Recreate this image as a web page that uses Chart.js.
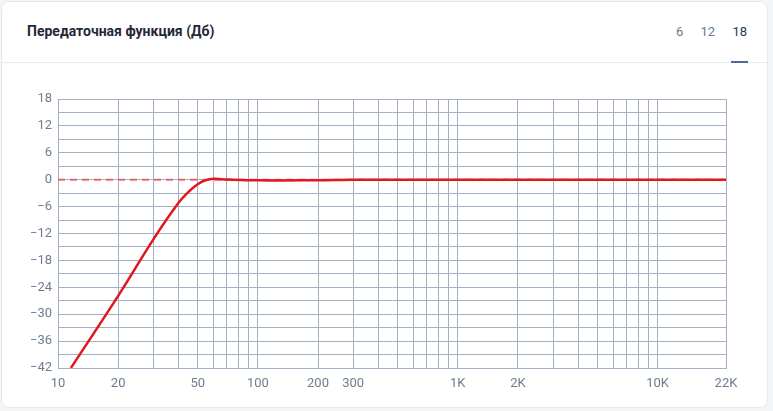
<!DOCTYPE html>
<html>
<head>
<meta charset="utf-8">
<script src="https://cdn.jsdelivr.net/npm/chart.js@4.4.1/dist/chart.umd.min.js"></script>
<style>
    html, body { margin: 0; padding: 0; background: #f4f5f7; }
    body { width: 773px; height: 411px; overflow: hidden; font-family: Roboto, "Noto Sans", sans-serif; }
    .card {
        position: absolute; left: 1px; top: 1px; width: 765px; height: 405px;
        background: #fff; border: 1px solid #e6e9ee; border-radius: 8px;
    }
    .header {
        position: absolute; left: 0; top: 0; width: 765px; height: 60px;
        border-bottom: 1px solid #e8ebf0;
    }
    .title {
        position: absolute; left: 25px; top: 21px;
        font-size: 14px; font-weight: 700; color: #1f2937;
    }
    .tabs { position: absolute; right: 20px; top: 22px; font-size: 13px; }
    .tab { display: inline-block; margin-left: 14px; color: #6b7a90; position: relative; }
    .tab.active { color: #2a3952; }
    .tab.active::after {
        content: ''; position: absolute; left: -1px; right: -1px; top: 37px;
        height: 2px; background: #4b6a96;
    }
    .wrap { position: absolute; left: -1px; top: 61px; width: 770px; height: 345px; }
</style>
</head>
<body>
<div class="card">
    <div class="header">
        <div class="title">Передаточная функция (Дб)</div>
        <div class="tabs">
            <span class="tab">6</span>
            <span class="tab">12</span>
            <span class="tab active">18</span>
        </div>
    </div>
    <div class="wrap"><canvas id="chart"></canvas></div>
</div>
<script>
// Частоты (Гц) и уровень (дБ)
const freqs = [11.6, 20, 30, 40, 45, 50, 55, 60, 70, 100, 200, 300, 1000, 5000, 22000];
const levels = [-42, -25.9, -13.3, -5.2, -2.7, -1.0, -0.1, 0.2, 0.05, -0.15, -0.1, 0, 0, 0, 0];

const refFreqs = [10, 22000];
const refLevels = [0, 0];

const gridFreqs = [10, 20, 30, 40, 50, 60, 70, 80, 90,
    100, 200, 300, 400, 500, 600, 700, 800, 900,
    1000, 2000, 3000, 4000, 5000, 6000, 7000, 8000, 9000,
    10000, 22000];
const xLabels = { 10: '10', 20: '20', 50: '50', 100: '100', 200: '200', 300: '300', 1000: '1K', 2000: '2K', 10000: '10K', 22000: '22K' };

const gridColor = '#a3b0c4';
const tickColor = '#6f7c90';

const ctx = document.getElementById('chart').getContext('2d');
new Chart(ctx, {
    type: 'line',
    data: {
        datasets: [{
            data: freqs.map((f, i) => ({ x: f, y: levels[i] })),
            borderColor: '#e3151d',
            borderWidth: 2.5,
            pointRadius: 0,
            tension: 0.35,
            fill: false
        }, {
            data: refFreqs.map((f, i) => ({ x: f, y: refLevels[i] })),
            borderColor: 'rgba(235, 80, 80, 0.8)',
            borderWidth: 2,
            borderDash: [7, 5],
            pointRadius: 0,
            fill: false
        }]
    },
    options: {
        responsive: true,
        maintainAspectRatio: false,
        animation: false,
        layout: { padding: { top: 36, right: 45, left: 0, bottom: 0 } },
        plugins: { legend: { display: false }, tooltip: { enabled: false } },
        scales: {
            x: {
                type: 'logarithmic',
                min: 10,
                max: 22000,
                afterBuildTicks: (axis) => {
                    axis.ticks = gridFreqs.map(v => ({ value: v }));
                },
                afterFit: (axis) => { axis.height = 40; },
                grid: { color: gridColor, lineWidth: 1, drawTicks: false },
                border: { color: gridColor },
                ticks: {
                    color: tickColor,
                    font: { family: 'Roboto', size: 13 },
                    padding: 8,
                    autoSkip: false,
                    maxRotation: 0,
                    callback: (v) => xLabels[v] || ''
                }
            },
            y: {
                min: -42,
                max: 18,
                afterFit: (axis) => { axis.width = 57; },
                grid: { color: gridColor, lineWidth: 1, drawTicks: false },
                border: { color: gridColor },
                ticks: {
                    stepSize: 3,
                    color: tickColor,
                    font: { family: 'Roboto', size: 13 },
                    padding: 6,
                    autoSkip: false,
                    callback: (v) => v % 6 === 0 ? String(v).replace('-', '−') : ''
                }
            }
        }
    }
});
</script>
</body>
</html>
